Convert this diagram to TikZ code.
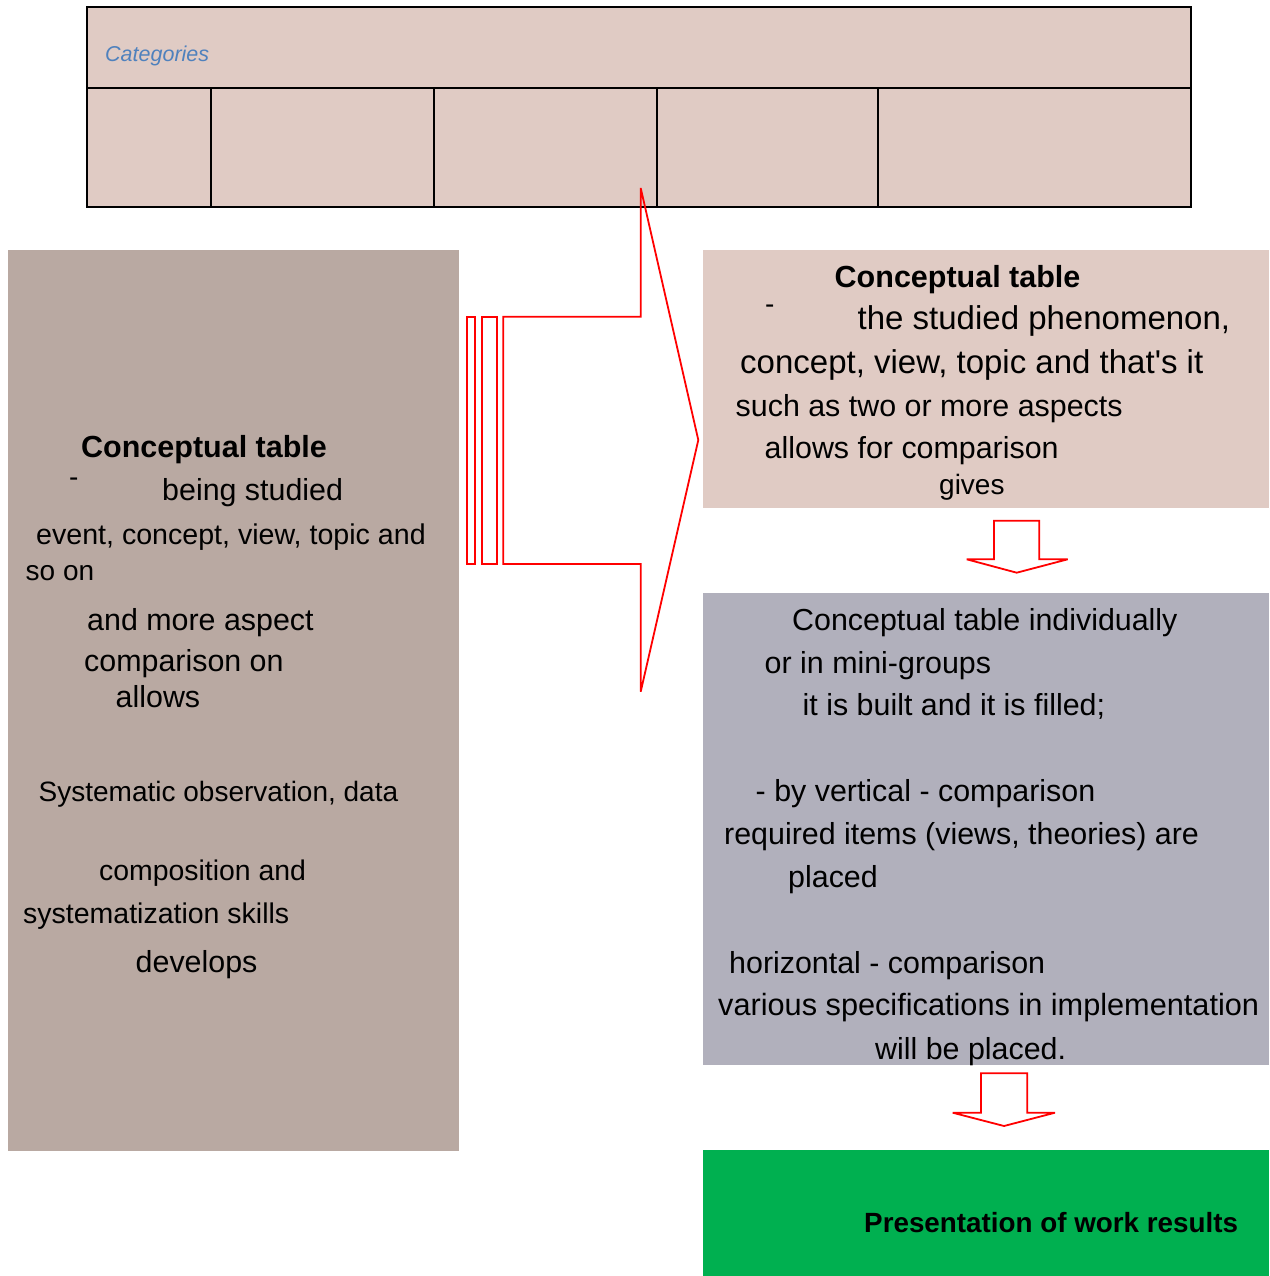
\documentclass[tikz,border=0pt]{standalone}
\usepackage{fontspec}
\setmainfont[Ligatures=TeXOff]{Liberation Sans}
\definecolor{tablefill}{HTML}{E0CBC4}
\definecolor{leftfill}{HTML}{B9A9A2}
\definecolor{rtopfill}{HTML}{E0CBC4}
\definecolor{rmidfill}{HTML}{B1B0BC}
\definecolor{greenfill}{HTML}{00B050}
\definecolor{catblue}{HTML}{4F81BD}
\definecolor{arrowred}{HTML}{FF0000}
\tikzset{
  box/.style={anchor=north west, inner sep=0pt, draw=none},
  txt/.style={anchor=base west, inner sep=0pt, text=black},
  fa/.style={font=\fontsize{28}{34}\selectfont},
  fa2/.style={font=\fontsize{28.6}{34}\selectfont},
  fb/.style={font=\fontsize{30.4}{36}\selectfont},
  fc/.style={font=\fontsize{33}{40}\selectfont},
  fbold/.style={font=\fontsize{30.5}{36}\selectfont\bfseries},
  tableline/.style={draw=black, line width=2pt},
  redshape/.style={draw=arrowred, line width=1.8pt, line join=miter, miter limit=3},
}
\begin{document}
\begin{tikzpicture}[x=1pt,y=-1pt]
\useasboundingbox (0,0) rectangle (1269,1276);
% table
\node[box, fill=tablefill, minimum width=1104pt, minimum height=200pt] (table) at (87,7) {};
\draw[tableline] (table.north west) rectangle (table.south east);
\draw[tableline] (87,88) -- (1191,88);
\foreach \cx in {211,434,657,878} { \draw[tableline] (\cx,88) -- (\cx,207); }
\node[txt, text=catblue, font=\fontsize{21.5}{26}\selectfont\itshape] (cat) at (105,62) {Categories};
% boxes
\node[box, fill=leftfill, minimum width=451pt, minimum height=901pt] (left) at (8,250) {};
\node[box, fill=rtopfill, minimum width=566pt, minimum height=258pt] (rtop) at (703,250) {};
\node[box, fill=rmidfill, minimum width=566pt, minimum height=472pt] (rmid) at (703,593) {};
\node[box, fill=greenfill, minimum width=566pt, minimum height=126pt] (green) at (703,1150) {};
% striped arrow
\draw[redshape] (466.7,316.7) rectangle (475,564);
\draw[redshape] (481.7,316.7) rectangle (496.7,564);
\draw[redshape] (503.3,316.7) -- (640.7,316.7) -- (640.7,188) -- (698.3,440) -- (640.7,691.7) -- (640.7,564) -- (503.3,564) -- cycle;
% down arrows
\draw[redshape] (994,520.7) -- (1039.3,520.7) -- (1039.3,559.3) -- (1067.7,559.3) -- (1016.7,572.7) -- (966.7,559.3) -- (994,559.3) -- cycle;
\draw[redshape] (981,1073.3) -- (1027.3,1073.3) -- (1027.3,1112.7) -- (1055,1112.7) -- (1004,1126) -- (952.7,1112.7) -- (981,1112.7) -- cycle;
% left box text
\node[txt, fbold] (l1) at (81,457.5) {Conceptual table};
\node[txt, fa] (l2) at (69,486.5) {-};
\node[txt, fb] (l3) at (162,500.5) {being studied};
\node[txt, fa2] (l4) at (36,544) {event, concept, view, topic and};
\node[txt, fa] (l5) at (25.5,580) {so on};
\node[txt, fb] (l6) at (87,630) {and more aspect};
\node[txt, fb] (l7) at (84,671.5) {comparison on};
\node[txt, fb] (l8) at (115.5,707.5) {allows};
\node[txt, fa] (l9) at (38.5,801.5) {Systematic observation, data};
\node[txt, font=\fontsize{28.4}{34}\selectfont] (l10) at (99,880) {composition and};
\node[txt, font=\fontsize{28.5}{34}\selectfont] (l11) at (23,923.5) {systematization skills};
\node[txt, fb] (l12) at (135.5,972.5) {develops};
% right top text
\node[txt, fbold] (r1) at (834.5,287.5) {Conceptual table};
\node[txt, fa] (r2) at (765,313.5) {-};
\node[txt, fc] (r3) at (857.5,329.5) {the studied phenomenon,};
\node[txt, fc] (r4) at (740,373) {concept, view, topic and that's it};
\node[txt, fb] (r5) at (735.5,416.5) {such as two or more aspects};
\node[txt, fb] (r6) at (764.5,458) {allows for comparison};
\node[txt, fa] (r7) at (939,494) {gives};
% right middle text
\node[txt, fb] (m1) at (792,630.5) {Conceptual table individually};
\node[txt, fb] (m2) at (764.5,673) {or in mini-groups};
\node[txt, fb] (m3) at (802.5,715.5) {it is built and it is filled;};
\node[txt, fb] (m4) at (755.5,801.5) {- by vertical - comparison};
\node[txt, fb] (m5) at (724,844) {required items (views, theories) are};
\node[txt, fb] (m6) at (788,887.5) {placed};
\node[txt, fb] (m7) at (729,973) {horizontal - comparison};
\node[txt, font=\fontsize{30.7}{36}\selectfont] (m8) at (718,1015) {various specifications in implementation};
\node[txt, fb] (m9) at (875,1059) {will be placed.};
% green text
\node[txt, font=\fontsize{27.8}{33}\selectfont\bfseries] (g1) at (864,1232.5) {Presentation of work results};
\end{tikzpicture}
\end{document}
